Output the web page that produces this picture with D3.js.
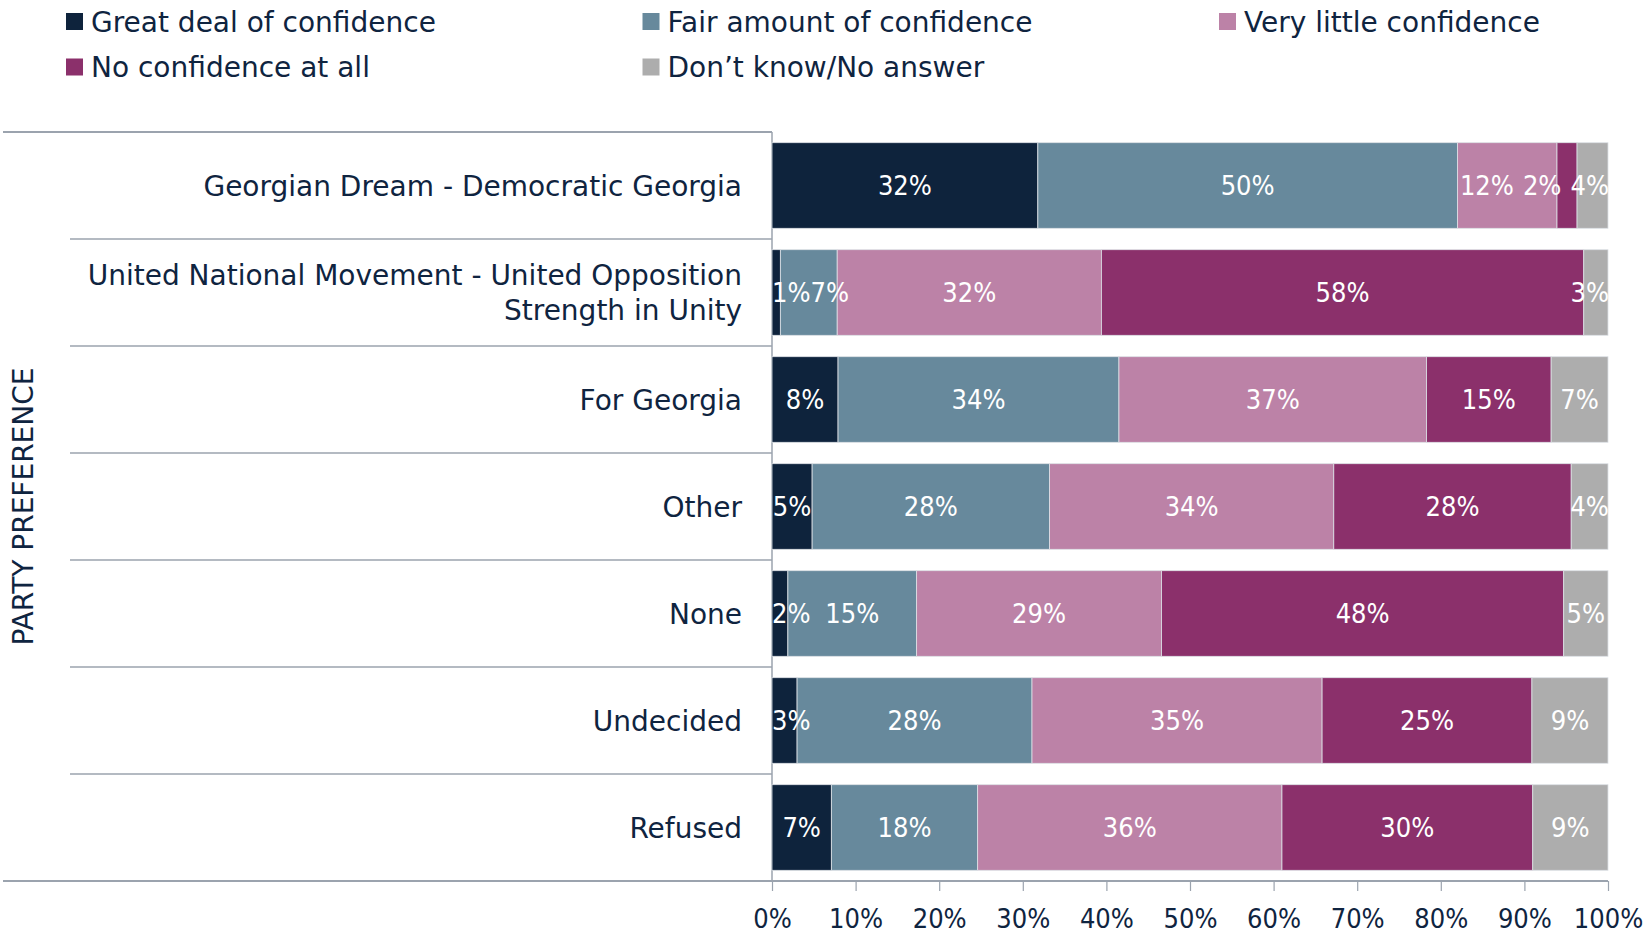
<!DOCTYPE html>
<html>
<head>
<meta charset="utf-8">
<script src="https://cdn.jsdelivr.net/npm/d3@7"></script>
<style>
	html, body { margin: 0; padding: 0; background: #fff; }
	svg { display: block; font-family: 'DejaVu Sans', sans-serif; }
	.num { font-family: 'DejaVu Sans Condensed', 'DejaVu Sans', sans-serif; font-stretch: condensed; }
</style>
</head>
<body>
<div id="chart"></div>
<script>
// categories (top to bottom), lines split for wrapping
const parties = [
	["Georgian Dream - Democratic Georgia"],
	["United National Movement - United Opposition", "Strength in Unity"],
	["For Georgia"],
	["Other"],
	["None"],
	["Undecided"],
	["Refused"]
];
const seriesNames = ["Great deal of confidence", "Fair amount of confidence", "Very little confidence", "No confidence at all", "Don\u2019t know/No answer"];
const seriesColors = ["#0e233c", "#67899c", "#bc82a7", "#8b306b", "#adadad"];

// shares in %, one array per series, same order as parties
const greatDeal   = [31.8, 1.0, 7.9, 4.8, 1.9, 3.0, 7.1];
const fairAmount  = [50.2, 6.8, 33.6, 28.4, 15.4, 28.1, 17.5];
const veryLittle  = [11.9, 31.6, 36.8, 34.0, 29.3, 34.7, 36.4];
const noneAtAll   = [2.4, 57.7, 14.9, 28.4, 48.1, 25.1, 30.0];
const dontKnow    = [3.7, 2.9, 6.8, 4.4, 5.3, 9.1, 9.0];
const seriesValues = [greatDeal, fairAmount, veryLittle, noneAtAll, dontKnow];

const xTicks = [0, 10, 20, 30, 40, 50, 60, 70, 80, 90, 100];

const width = 1643, height = 936;
const textColor = "#0f2440";
const lineColor = "#9ba3ae";
const fontSize = 28;
const numSize = 27;
const plotLeft = 772, plotRight = 1608, plotTop = 132, plotBottom = 881;

const svg = d3.select("#chart")
	.append("svg")
	.attr("width", width)
	.attr("height", height);

const x = d3.scaleLinear().domain([0, 100]).range([plotLeft, plotRight]);
const y = d3.scaleBand()
	.domain(d3.range(parties.length))
	.range([plotTop, plotBottom])
	.paddingInner(0.2)
	.paddingOuter(0.1);

const rows = parties.map((p, i) => {
	const row = { index: i };
	seriesNames.forEach((s, j) => row[s] = seriesValues[j][i]);
	return row;
});
const stacked = d3.stack().keys(seriesNames)(rows);

// legend
const legend = svg.append("g");
seriesNames.forEach((name, i) => {
	const col = i % 3, rowIdx = Math.floor(i / 3);
	const g = legend.append("g")
		.attr("transform", `translate(${66 + col * 576.5}, ${13 + rowIdx * 45.5})`);
	g.append("rect")
		.attr("width", 17)
		.attr("height", 17)
		.attr("fill", seriesColors[i]);
	g.append("text")
		.attr("x", 25)
		.attr("y", 18.5)
		.attr("font-size", fontSize)
		.attr("fill", textColor)
		.text(name);
});

// table lines on the left
const step = y.step();
svg.append("line")
	.attr("x1", 3).attr("x2", plotLeft)
	.attr("y1", plotTop).attr("y2", plotTop)
	.attr("stroke", lineColor).attr("stroke-width", 2);
d3.range(1, parties.length).forEach(k => {
	svg.append("line")
		.attr("x1", 70).attr("x2", plotLeft)
		.attr("y1", plotTop + k * step).attr("y2", plotTop + k * step)
		.attr("stroke", lineColor).attr("stroke-width", 1.5);
});
svg.append("line")
	.attr("x1", plotLeft).attr("x2", plotLeft)
	.attr("y1", plotTop).attr("y2", plotBottom)
	.attr("stroke", lineColor).attr("stroke-width", 1.5);

// bars
const layers = svg.append("g")
	.selectAll("g")
	.data(stacked)
	.enter()
	.append("g")
	.attr("fill", (d, i) => seriesColors[i]);

layers.selectAll("rect")
	.data(d => d)
	.enter()
	.append("rect")
	.attr("x", d => x(d[0]))
	.attr("y", d => y(d.data.index))
	.attr("width", d => x(d[1]) - x(d[0]))
	.attr("height", y.bandwidth())
	.attr("stroke", "#dde1e6")
	.attr("stroke-width", 0.8);

// value labels, nudged apart where segments are narrow
svg.append("clipPath").attr("id", "plotclip")
	.append("rect")
	.attr("x", plotLeft).attr("y", plotTop)
	.attr("width", plotRight - plotLeft + 1).attr("height", plotBottom - plotTop);

const labelLayer = svg.append("g").attr("clip-path", "url(#plotclip)");
parties.forEach((p, i) => {
	const items = stacked.map(layer => {
		const d = layer[i];
		const t = labelLayer.append("text")
			.attr("class", "num")
			.attr("font-size", numSize)
			.attr("fill", "#fff")
			.attr("y", y(i) + y.bandwidth() / 2)
			.attr("dy", "0.36em")
			.text(Math.round(d[1] - d[0]) + "%");
		const w = t.node().getComputedTextLength();
		return { t, w, start: (x(d[0]) + x(d[1])) / 2 - w / 2 };
	});
	let prevEnd = plotLeft;
	items.forEach(it => {
		it.start = Math.max(it.start, prevEnd);
		prevEnd = it.start + it.w;
	});
	let nextStart = plotRight + 1;
	for (let k = items.length - 1; k >= 0; k--) {
		const it = items[k];
		if (it.start + it.w > nextStart) it.start = Math.max(plotLeft, nextStart - it.w);
		nextStart = it.start - 9;
	}
	items.forEach(it => it.t.attr("x", it.start));
});

// category labels
const catLabels = svg.append("g");
parties.forEach((lines, i) => {
	const lh = 34.7;
	const cy = y(i) + y.bandwidth() / 2;
	const t = catLabels.append("text")
		.attr("text-anchor", "end")
		.attr("font-size", fontSize)
		.attr("fill", textColor);
	lines.forEach((line, k) => {
		t.append("tspan")
			.attr("x", plotLeft - 30)
			.attr("y", cy + (k - (lines.length - 1) / 2) * lh)
			.attr("dy", "0.36em")
			.text(line);
	});
});

// axis title
svg.append("text")
	.attr("transform", `translate(23, ${(plotTop + plotBottom) / 2}) rotate(-90)`)
	.attr("text-anchor", "middle")
	.attr("dy", "0.36em")
	.attr("font-size", fontSize)
	.attr("fill", textColor)
	.text("PARTY PREFERENCE");

// x axis
svg.append("line")
	.attr("x1", 3).attr("x2", plotRight)
	.attr("y1", plotBottom).attr("y2", plotBottom)
	.attr("stroke", lineColor).attr("stroke-width", 2);

const xAxis = svg.append("g")
	.attr("transform", `translate(0, ${plotBottom})`)
	.call(d3.axisBottom(x).tickValues(xTicks).tickFormat(d => d + "%").tickSize(10).tickPadding(18));
xAxis.attr("font-family", null);
xAxis.select(".domain").remove();
xAxis.selectAll(".tick line").attr("stroke", lineColor).attr("stroke-width", 1.2);
xAxis.selectAll(".tick text")
	.attr("class", "num")
	.attr("font-size", numSize)
	.attr("fill", textColor);
</script>
</body>
</html>
